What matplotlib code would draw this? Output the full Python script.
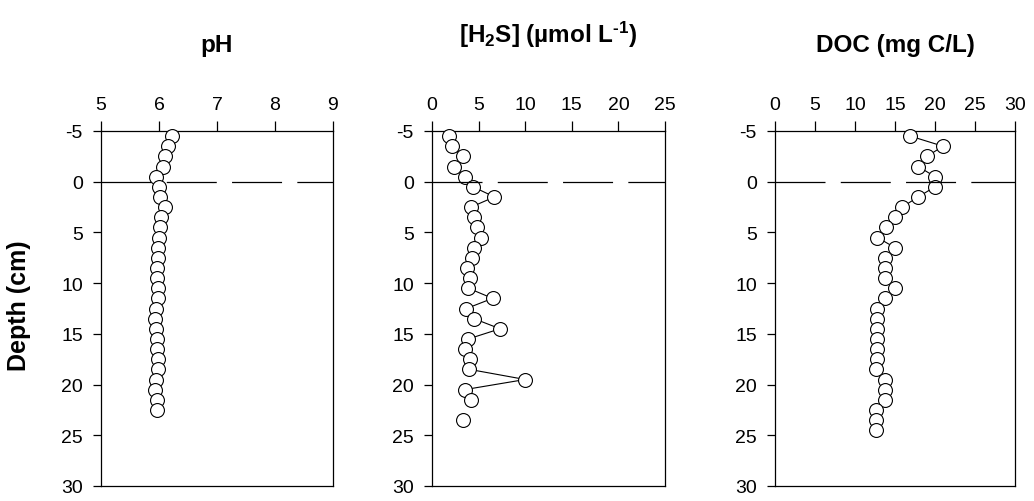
import numpy as np
import matplotlib
matplotlib.use("Agg")
import matplotlib.pyplot as plt

plt.rcParams["font.family"] = ["Liberation Sans", "DejaVu Sans"]
plt.rcParams["mathtext.fontset"] = "custom"
plt.rcParams["mathtext.rm"] = "Liberation Sans:bold"
plt.rcParams["mathtext.bf"] = "Liberation Sans:bold"
plt.rcParams["mathtext.default"] = "regular"
plt.rcParams["axes.unicode_minus"] = False
plt.rcParams["lines.scale_dashes"] = False

# Depth of each sample (cm), negative values are above the sediment surface
depth_ph = [-4.5, -3.5, -2.5, -1.5, -0.5, 0.5, 1.5, 2.5, 3.5, 4.5, 5.5, 6.5, 7.5,
            8.5, 9.5, 10.5, 11.5, 12.5, 13.5, 14.5, 15.5, 16.5, 17.5, 18.5,
            19.5, 20.5, 21.5, 22.5]
ph = [6.22, 6.16, 6.10, 6.07, 5.94, 6.00, 6.01, 6.10, 6.04, 6.01, 6.00, 5.99,
      5.98, 5.97, 5.97, 5.99, 5.99, 5.94, 5.93, 5.95, 5.97, 5.97, 5.98, 5.99,
      5.94, 5.93, 5.97, 5.97]

depth_h2s = [-4.5, -3.5, -2.5, -1.5, -0.5, 0.5, 1.5, 2.5, 3.5, 4.5, 5.5, 6.5,
             7.5, 8.5, 9.5, 10.5, 11.5, 12.5, 13.5, 14.5, 15.5, 16.5, 17.5,
             18.5, 19.5, 20.5, 21.5, 22.5, 23.5]
h2s = [1.8, 2.1, 3.3, 2.4, 3.5, 4.4, 6.7, 4.2, 4.5, 4.8, 5.25, 4.5, 4.3, 3.75,
       4.1, 3.9, 6.5, 3.7, 4.5, 7.3, 3.9, 3.5, 4.1, 4.0, 10.0, 3.5, 4.2,
       np.nan, 3.3]

depth_doc = [-4.5, -3.5, -2.5, -1.5, -0.5, 0.5, 1.5, 2.5, 3.5, 4.5, 5.5, 6.5,
             7.5, 8.5, 9.5, 10.5, 11.5, 12.5, 13.5, 14.5, 15.5, 16.5, 17.5,
             18.5, 19.5, 20.5, 21.5, 22.5, 23.5, 24.5]
doc = [16.9, 21.0, 19.0, 17.9, 20.0, 20.0, 17.9, 15.9, 15.0, 13.9, 12.8, 15.0,
       13.8, 13.8, 13.8, 15.0, 13.8, 12.8, 12.8, 12.8, 12.8, 12.8, 12.8, 12.6,
       13.8, 13.8, 13.7, 12.6, 12.6, 12.6]

titles = ["pH", r"[H$_2$S] (µmol L$^{\text{-1}}$)", "DOC (mg C/L)"]
x_ticks = [[5, 6, 7, 8, 9], [0, 5, 10, 15, 20, 25], [0, 5, 10, 15, 20, 25, 30]]
y_ticks = [-5, 0, 5, 10, 15, 20, 25, 30]

W, H = 1034, 502
fig = plt.figure(figsize=(W / 100, H / 100), dpi=100)

# panel boxes in pixels: (left, right)
boxes = [(101, 333), (432, 665), (775, 1015)]
top_px, bot_px = 132, 487
title_base = [52, 43, 52]

series = [(ph, depth_ph), (h2s, depth_h2s), (doc, depth_doc)]

for i, ((l, r), (vals, dep)) in enumerate(zip(boxes, series)):
    ax = fig.add_axes([l / W, (H - bot_px) / H, (r - l) / W, (bot_px - top_px) / H])
    xt = x_ticks[i]
    ax.set_xlim(xt[0], xt[-1])
    ax.set_ylim(30, -5)
    ax.set_xticks(xt)
    ax.set_yticks(y_ticks)
    ax.xaxis.tick_top()
    ax.tick_params(axis="x", which="both", top=True, bottom=False, direction="out",
                   length=7, width=0.9, pad=6, labelsize=14)
    ax.tick_params(axis="y", which="both", left=True, right=False, direction="out",
                   length=6, width=0.9, pad=7, labelsize=14)
    for s in ax.spines.values():
        s.set_linewidth(0.9)
        s.set_color("black")

    # sediment-water interface
    ax.axhline(0, color="black", lw=0.9, linestyle=(0, (36, 11)), zorder=4)

    ax.plot(vals, dep, "-o", color="black", lw=0.8, ms=10, mfc="white",
            mec="black", mew=0.8, zorder=3, clip_on=False)

    cx = (l + r) / 2
    fig.text(cx / W, (H - title_base[i]) / H, titles[i], ha="center",
             va="baseline", fontsize=17.5, fontweight="bold")

fig.text(19 / W, (H - 306) / H, "Depth (cm)", rotation=90, ha="center",
         va="center", fontsize=18, fontweight="bold")

fig.savefig("out.png", dpi=100)
